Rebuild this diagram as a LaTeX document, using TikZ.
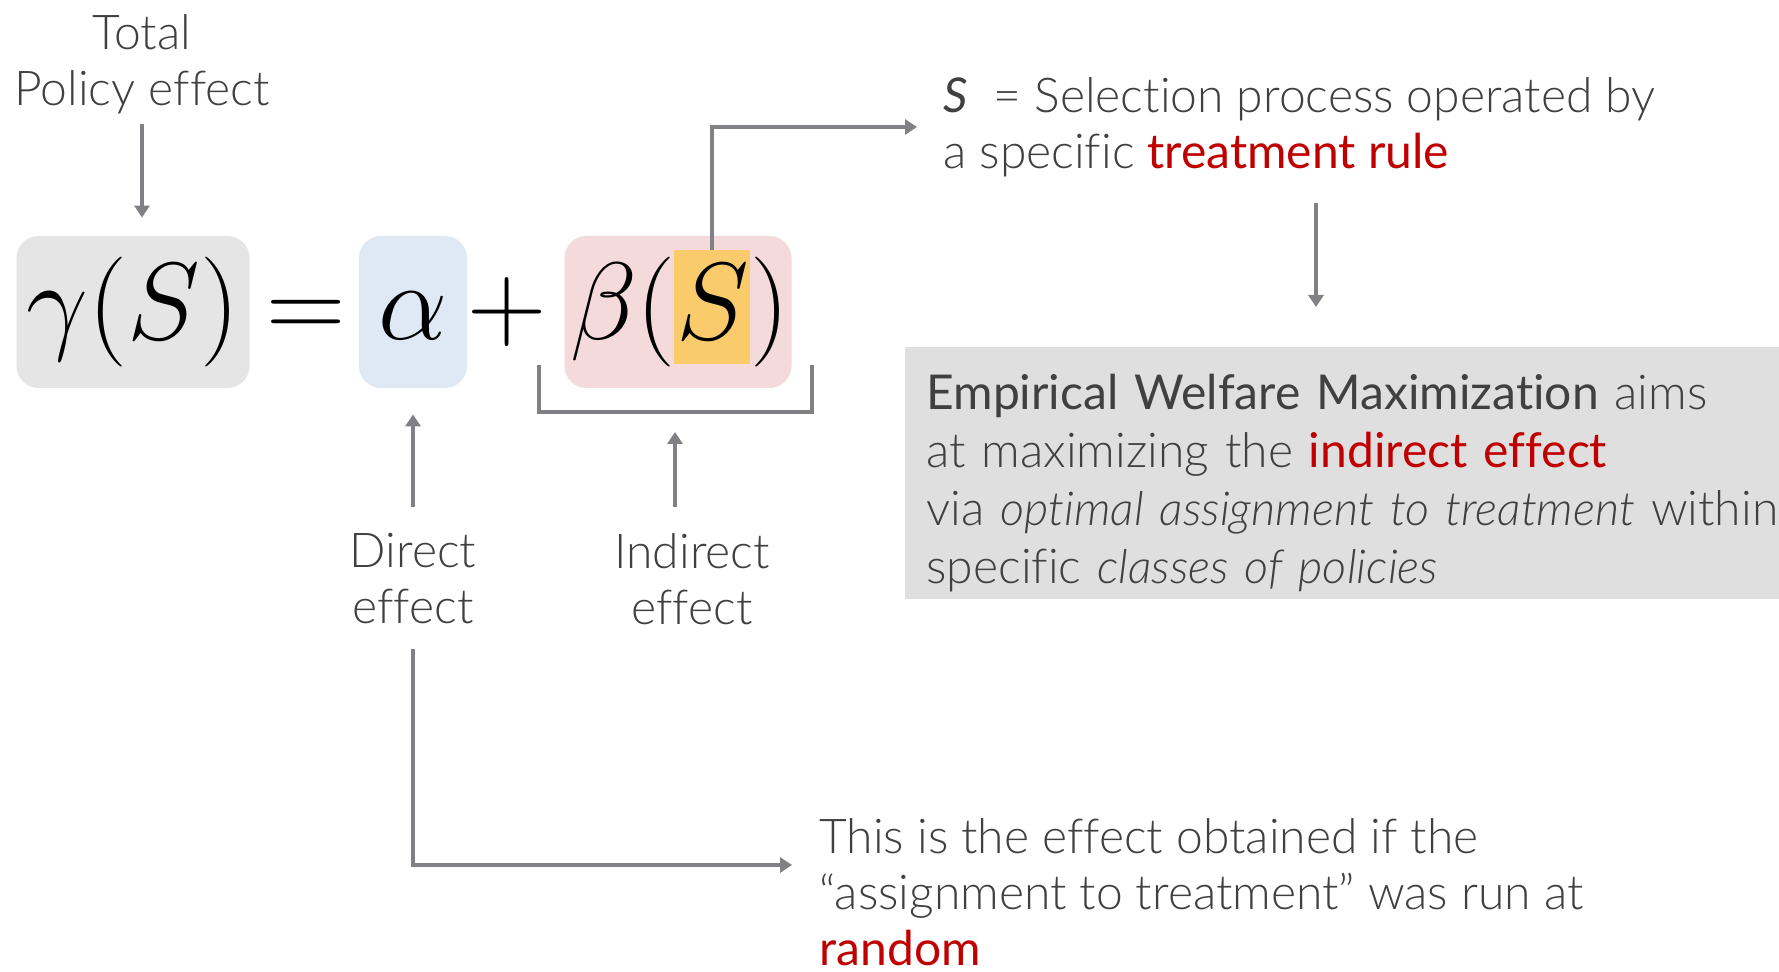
\RequirePackage{fix-cm}
\documentclass[tikz,border=0pt]{standalone}
\usepackage[no-math]{fontspec}
\setmainfont{Lato Light}[ItalicFont={Lato Light Italic},ItalicFeatures={Scale=0.975},Ligatures=NoCommon]
\newfontfamily\latoreg{Lato}[Ligatures=NoCommon]
\usetikzlibrary{arrows.meta,positioning}

\definecolor{txtgray}{HTML}{404040}
\definecolor{lnkgray}{HTML}{808085}
\definecolor{gammafill}{HTML}{E4E5E4}
\definecolor{alphafill}{HTML}{DEE9F5}
\definecolor{betafill}{HTML}{F4DADB}
\definecolor{selfill}{HTML}{F9CB6A}
\definecolor{ewmfill}{HTML}{DFDFDF}
\definecolor{hilite}{HTML}{C00000}

\newcommand{\hl}[1]{{\latoreg\color{hilite}#1}}

\begin{document}
\begin{tikzpicture}[x=0.5pt,y=-0.5pt,>={Triangle[length=6pt,width=7.5pt]},
    link/.style={draw=lnkgray,line width=1.6pt,->},
    lbl/.style={inner sep=0pt,text=txtgray,font=\fontsize{24}{28}\selectfont},
    mathtxt/.style={inner sep=0pt,font=\fontsize{55}{60}\selectfont},
    termbox/.style={rounded corners=11pt,minimum width=#1,minimum height=76pt,
        inner sep=0pt,font=\fontsize{55}{60}\selectfont}]
    \path[use as bounding box,fill=white] (0,0) rectangle (1779,972);

    % the equation
    \node[termbox=116.5pt,fill=gammafill] (gamma) at (133,312) {$\gamma(S)$};
    \node[mathtxt] (eq) at (306,312) {$\vphantom{(}{=}$};
    \node[termbox=54pt,fill=alphafill] (alpha) at (413,312) {$\vphantom{(}\alpha$};
    \node[mathtxt] (plus) at (507,312) {$\vphantom{(}{+}$};
    \node[termbox=113.5pt,fill=betafill] (beta) at (678,312) {};
    \node[fill=selfill,minimum width=38pt,minimum height=57pt,inner sep=0pt] (selbg) at (712,307) {};
    \node[mathtxt,anchor=base] (selS) at (713,340) {$S$};
    \node[mathtxt,anchor=base east] (betaL) at (selS.base west) {$\beta($};
    \node[mathtxt,anchor=base west] (betaR) at (selS.base east) {$)$};

    % bracket under beta(S)
    \draw[draw=lnkgray,line width=1.6pt] (539,365) |- (812,412) -- (812,365);
    \coordinate (brkmid) at (675,412);

    % labels
    \node[lbl,align=center] (total) at (142,64) {Total\\Policy effect};
    \node[lbl,align=center] (direct) at (413,579) {Direct\\effect};
    \node[lbl,align=center] (indirect) at (692,579) {Indirect\\effect};
    \node[lbl,align=left,anchor=west] (sdef) at (943,127)
        {{\latoreg\itshape S}\ \ = Selection process operated by\\a specific \hl{treatment rule}};
    \node[lbl,align=left,anchor=west] (randtxt) at (819,892)
        {This is the effect obtained if the\\“assignment to treatment” was run at\\\hl{random}};
    \node[anchor=north west,fill=ewmfill,text width=470pt,inner xsep=10.5pt,inner ysep=0pt,
        minimum height=126pt,align=left,text=txtgray,font=\fontsize{24}{29}\selectfont] (ewm) at (905,347)
        {\rule{0pt}{27pt}{\latoreg Empirical Welfare Maximization} aims\\at maximizing the \hl{indirect effect}\\via \textit{optimal assignment to treatment} within\\specific \textit{classes of policies}};
    \coordinate (dropx) at (1316,0);
    \coordinate (randtip) at (792,865);

    % connectors
    \draw[link,shorten <=5pt,shorten >=9pt] (total.south) -- (total.south |- gamma.north);
    \draw[link,shorten <=13pt,shorten >=13pt] (direct.north) -- (alpha.south);
    \draw[link,shorten <=13pt,shorten >=10pt] (brkmid |- indirect.north) -- (brkmid);
    \draw[link,shorten >=13pt] (selbg.north) |- (sdef.west);
    \draw[link,shorten <=12pt] (direct.south) |- (randtip);
    \draw[link,shorten <=13pt,shorten >=20pt] (sdef.south -| dropx) -- (dropx |- ewm.north);
\end{tikzpicture}
\end{document}
